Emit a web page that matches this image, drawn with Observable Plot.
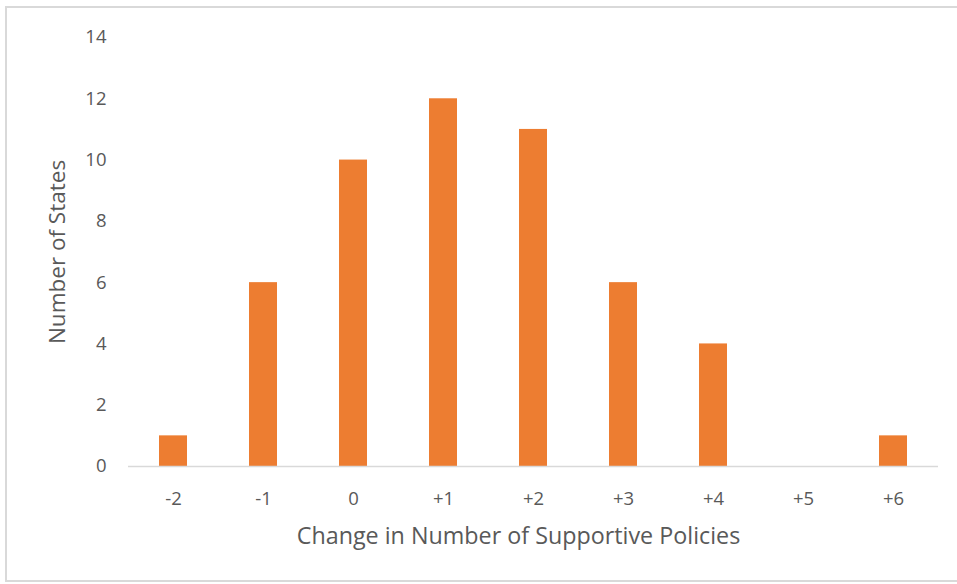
<!DOCTYPE html>
<html>
<head>
<meta charset="utf-8">
<script src="https://cdn.jsdelivr.net/npm/d3@7"></script>
<script src="https://cdn.jsdelivr.net/npm/@observablehq/plot@0.6"></script>
<style>
  html, body { margin: 0; padding: 0; background: #fff; }
  #wrap { position: relative; width: 957px; height: 584px; overflow: hidden; }
  #border { position: absolute; left: 5px; top: 6px; width: 960px; height: 576px; border: 2px solid #d9d9d9; border-right: none; pointer-events: none; box-sizing: border-box; }
</style>
</head>
<body>
<div id="wrap"><div id="border"></div></div>
<script>
const categories = ["-2", "-1", "0", "+1", "+2", "+3", "+4", "+5", "+6"];
const values = [1, 6, 10, 12, 11, 6, 4, 0, 1];
const yTicks = [0, 2, 4, 6, 8, 10, 12, 14];
const xTitle = "Change in Number of Supportive Policies";
const yTitle = "Number of States";

const data = categories.map((c, i) => ({cat: c, n: values[i]}));
const textColor = "#595959";
const font = "'Open Sans', Lato, sans-serif";

const chart = Plot.plot({
  width: 957,
  height: 584,
  marginLeft: 128,
  marginRight: 19,
  marginTop: 37,
  marginBottom: 118,
  style: {fontFamily: font, color: textColor, background: "transparent", overflow: "visible"},
  x: {domain: categories, paddingInner: 0.689, paddingOuter: 0.3445, align: 0.5, label: null},
  y: {domain: [0, 14], label: null},
  marks: [
    Plot.barY(data, {x: "cat", y: "n", fill: "#ED7D31"}),
    Plot.ruleY([0], {stroke: "#d9d9d9", strokeWidth: 1.5}),
    Plot.axisY({ticks: yTicks, tickSize: 0, tickPadding: 22, fontSize: 18.5, fill: textColor, label: null}),
    Plot.axisX({tickSize: 0, tickPadding: 25, fontSize: 18.5, fill: textColor, label: null}),
    Plot.text([xTitle], {frameAnchor: "bottom", dx: -15, dy: 77, fontSize: 23.3, fill: textColor}),
    Plot.text([yTitle], {frameAnchor: "left", dx: -71, rotate: -90, textAnchor: "middle", fontSize: 22.5, fill: textColor})
  ]
});
document.getElementById("wrap").insertBefore(chart, document.getElementById("border"));
chart.style.position = "absolute";
chart.style.left = "0";
chart.style.top = "0";
</script>
</body>
</html>
